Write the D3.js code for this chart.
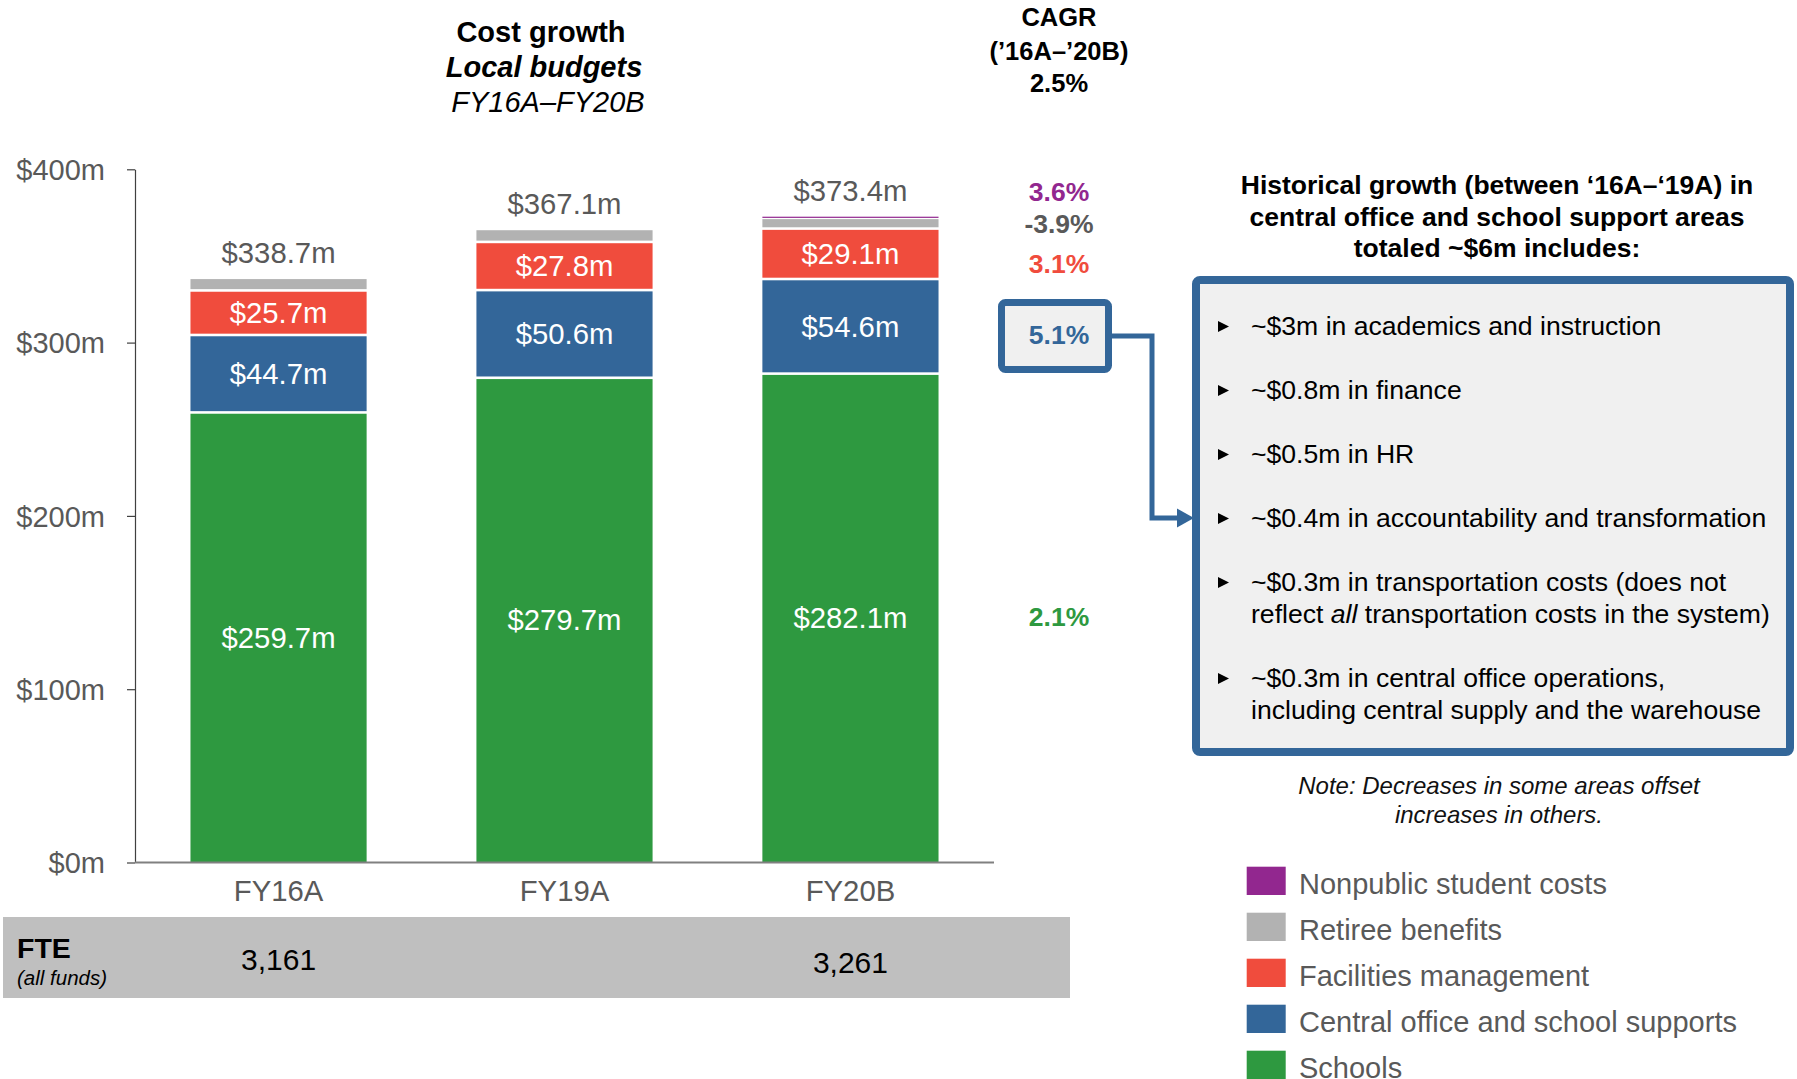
<!DOCTYPE html>
<html>
<head>
<meta charset="utf-8">
<script src="https://cdn.jsdelivr.net/npm/d3@7"></script>
<style>
  html, body { margin: 0; padding: 0; background: #ffffff; }
  svg { display: block; }
  text { font-family: "Liberation Sans", Arial, Helvetica, sans-serif; }
</style>
</head>
<body>
<script>
// ---------------- DATA ----------------
const categories = ["FY16A", "FY19A", "FY20B"];
const schools    = [259.7, 279.7, 282.1];
const central    = [44.7, 50.6, 54.6];
const facilities = [25.7, 27.8, 29.1];
const retiree    = [7.3, 7.5, 6.2];
const nonpublic  = [0, 0, 1.4];
const totals     = [338.7, 367.1, 373.4];
const fteValues  = ["3,161", "", "3,261"];
const yTicks     = [0, 100, 200, 300, 400];

const seriesKeys   = ["schools", "central", "facilities", "retiree", "nonpublic"];
const seriesNames  = {
  nonpublic: "Nonpublic student costs",
  retiree: "Retiree benefits",
  facilities: "Facilities management",
  central: "Central office and school supports",
  schools: "Schools"
};
const legendOrder  = ["nonpublic", "retiree", "facilities", "central", "schools"];
const cagrLabels   = { nonpublic: "3.6%", retiree: "-3.9%", facilities: "3.1%", central: "5.1%", schools: "2.1%" };
const cagrTotal    = "2.5%";
const showSegLabel = { schools: true, central: true, facilities: true, retiree: false, nonpublic: false };

const bullets = [
  [[{t: "~$3m in academics and instruction"}]],
  [[{t: "~$0.8m in finance"}]],
  [[{t: "~$0.5m in HR"}]],
  [[{t: "~$0.4m in accountability and transformation"}]],
  [[{t: "~$0.3m in transportation costs (does not"}],
   [{t: "reflect "}, {t: "all", i: true}, {t: " transportation costs in the system)"}]],
  [[{t: "~$0.3m in central office operations,"}],
   [{t: "including central supply and the warehouse"}]]
];
const headerLines = ["Historical growth (between \u201816A\u2013\u201819A) in",
                     "central office and school support areas",
                     "totaled ~$6m includes:"];
const noteLines = ["Note: Decreases in some areas offset", "increases in others."];

// ---------------- STYLE / LAYOUT ----------------
const W = 1797, H = 1079;
const colors = {
  nonpublic: "#92278f", retiree: "#b2b2b2", facilities: "#f04c3d",
  central: "#336699", schools: "#2e9940"
};
const cagrColors = {
  nonpublic: "#92278f", retiree: "#595959", facilities: "#f04c3d",
  central: "#336699", schools: "#2e9940"
};
const cagrY = { nonpublic: 200.5, retiree: 232.5, facilities: 272.5, central: 343.5, schools: 626 };
const GRAY_TXT = "#595959";

const svg = d3.select("body").append("svg").attr("width", W).attr("height", H);

function txt(parent, x, y, s, o) {
  o = o || {};
  const t = parent.append("text")
    .attr("x", x).attr("y", y)
    .attr("text-anchor", o.anchor || "start")
    .style("font-size", (o.size || 24) + "px")
    .style("font-weight", o.weight || "normal")
    .style("font-style", o.style || "normal")
    .attr("fill", o.fill || "#000");
  if (s != null) t.text(s);
  return t;
}

// scales
const x = d3.scaleBand().domain(categories).range([135, 994]).paddingInner(0.384).paddingOuter(0.194);
const y = d3.scaleLinear().domain([0, 400]).range([862.5, 169.3]);

// stack
const rows = categories.map((c, i) => ({
  cat: c, schools: schools[i], central: central[i], facilities: facilities[i],
  retiree: retiree[i], nonpublic: nonpublic[i]
}));
const stacked = d3.stack().keys(seriesKeys)(rows);

// ---------------- FTE BAND ----------------
svg.append("rect").attr("x", 3).attr("y", 917).attr("width", 1067).attr("height", 81).attr("fill", "#bfbfbf");
txt(svg, 17, 958, "FTE", { size: 28.5, weight: "bold", fill: "#000" });
txt(svg, 17, 985, "(all funds)", { size: 20.5, style: "italic", fill: "#000" });
categories.forEach((c, i) => {
  if (!fteValues[i]) return;
  txt(svg, x(c) + x.bandwidth() / 2, i === 0 ? 970 : 973, fteValues[i],
      { size: 30, anchor: "middle", fill: "#000" });
});

// ---------------- BARS ----------------
const GAP = 1.3;
const gBars = svg.append("g");
stacked.forEach(layer => {
  const key = layer.key;
  gBars.append("g").selectAll("rect").data(layer.map((d, i) => ({ d, i, cat: categories[i] })))
    .join("rect")
    .attr("x", p => x(p.cat))
    .attr("width", x.bandwidth())
    .attr("y", p => y(p.d[1]) + GAP)
    .attr("height", p => {
      if (p.d[1] - p.d[0] <= 0) return 0;
      const bottom = key === "schools" ? y(p.d[0]) : y(p.d[0]) - GAP;
      return Math.max(1.2, bottom - (y(p.d[1]) + GAP));
    })
    .attr("fill", colors[key]);
  if (showSegLabel[key]) {
    layer.forEach((d, i) => {
      const mid = (y(d[0]) + y(d[1])) / 2;
      txt(gBars, x(categories[i]) + x.bandwidth() / 2, mid + 10.2, `$${(d[1] - d[0]).toFixed(1)}m`,
          { size: 29.3, anchor: "middle", fill: "#ffffff" });
    });
  }
});

// totals above bars
const topLayer = stacked[stacked.length - 1];
categories.forEach((c, i) => {
  txt(svg, x(c) + x.bandwidth() / 2, y(topLayer[i][1]) - 14.5, `$${totals[i].toFixed(1)}m`,
      { size: 29.3, anchor: "middle", fill: GRAY_TXT });
});

// ---------------- AXES ----------------
const yAxis = svg.append("g").attr("transform", "translate(135,0)")
  .call(d3.axisLeft(y).tickValues(yTicks).tickFormat(d => `$${d}m`).tickSize(8).tickSizeOuter(0).tickPadding(22));
yAxis.select(".domain").attr("stroke", "#404040").attr("stroke-width", 1.2);
yAxis.selectAll(".tick line").attr("stroke", "#404040").attr("stroke-width", 1.2);
yAxis.selectAll(".tick text")
  .attr("dy", "0.35em")
  .attr("fill", GRAY_TXT)
  .style("font-size", "29px")
  .style("font-family", "'Liberation Sans', Arial, sans-serif");

svg.append("line").attr("x1", 135).attr("x2", 994).attr("y1", y(0)).attr("y2", y(0))
  .attr("stroke", "#808080").attr("stroke-width", 1.8);

const xLab = svg.append("g");
categories.forEach(c => {
  txt(xLab, x(c) + x.bandwidth() / 2, 900.5, c, { size: 29.3, anchor: "middle", fill: GRAY_TXT });
});

// ---------------- TITLES ----------------
txt(svg, 541, 42, "Cost growth", { size: 29, weight: "bold", anchor: "middle" });
txt(svg, 544, 77, "Local budgets", { size: 29, weight: "bold", style: "italic", anchor: "middle" });
txt(svg, 548, 112, "FY16A\u2013FY20B", { size: 29, style: "italic", anchor: "middle" });

txt(svg, 1059, 26, "CAGR", { size: 25.5, weight: "bold", anchor: "middle" });
txt(svg, 1059, 60, "(\u201916A\u2013\u201920B)", { size: 25.5, weight: "bold", anchor: "middle" });
txt(svg, 1059, 92, cagrTotal, { size: 25.5, weight: "bold", anchor: "middle" });

// ---------------- CAGR VALUES ----------------
svg.append("rect").attr("x", 1001.5).attr("y", 302.5).attr("width", 107).attr("height", 67)
  .attr("rx", 4).attr("fill", "#f0f0f0").attr("stroke", "#336699").attr("stroke-width", 7);
seriesKeys.forEach(k => {
  txt(svg, 1059, cagrY[k], cagrLabels[k], { size: 26.5, weight: "bold", anchor: "middle", fill: cagrColors[k] });
});

// connector arrow
svg.append("path").attr("d", "M1112,336 H1152 V518 H1180").attr("fill", "none")
  .attr("stroke", "#336699").attr("stroke-width", 5).attr("stroke-linejoin", "miter");
svg.append("path").attr("d", "M1177,508.5 L1194,518 L1177,527.5 Z").attr("fill", "#336699");

// ---------------- RIGHT PANEL ----------------
headerLines.forEach((l, i) => {
  txt(svg, 1497, 194 + i * 31.5, l, { size: 26.5, weight: "bold", anchor: "middle" });
});
svg.append("rect").attr("x", 1196).attr("y", 280).attr("width", 594).attr("height", 472)
  .attr("rx", 4).attr("fill", "#f0f0f0").attr("stroke", "#336699").attr("stroke-width", 8);

const bulletY = [335, 399, 463, 527, 591, 687];
bullets.forEach((b, bi) => {
  const by = bulletY[bi];
  svg.append("path").attr("d", `M1218,${by - 14} L1229,${by - 8.5} L1218,${by - 3} Z`).attr("fill", "#000");
  b.forEach((line, li) => {
    const t = txt(svg, 1251, by + li * 32, null, { size: 26.6, fill: "#000" });
    line.forEach(seg => {
      t.append("tspan").style("font-style", seg.i ? "italic" : "normal").text(seg.t);
    });
  });
});

noteLines.forEach((l, i) => {
  txt(svg, 1499, 794 + i * 29, l, { size: 24, style: "italic", anchor: "middle", fill: "#111" });
});

// ---------------- LEGEND ----------------
const leg = svg.append("g");
legendOrder.forEach((k, i) => {
  const top = 866.7 + i * 46;
  leg.append("rect").attr("x", 1246.7).attr("y", top).attr("width", 39).attr("height", 28.3).attr("fill", colors[k]);
  txt(leg, 1299, top + 27, seriesNames[k], { size: 29, fill: GRAY_TXT });
});
</script>
</body>
</html>
